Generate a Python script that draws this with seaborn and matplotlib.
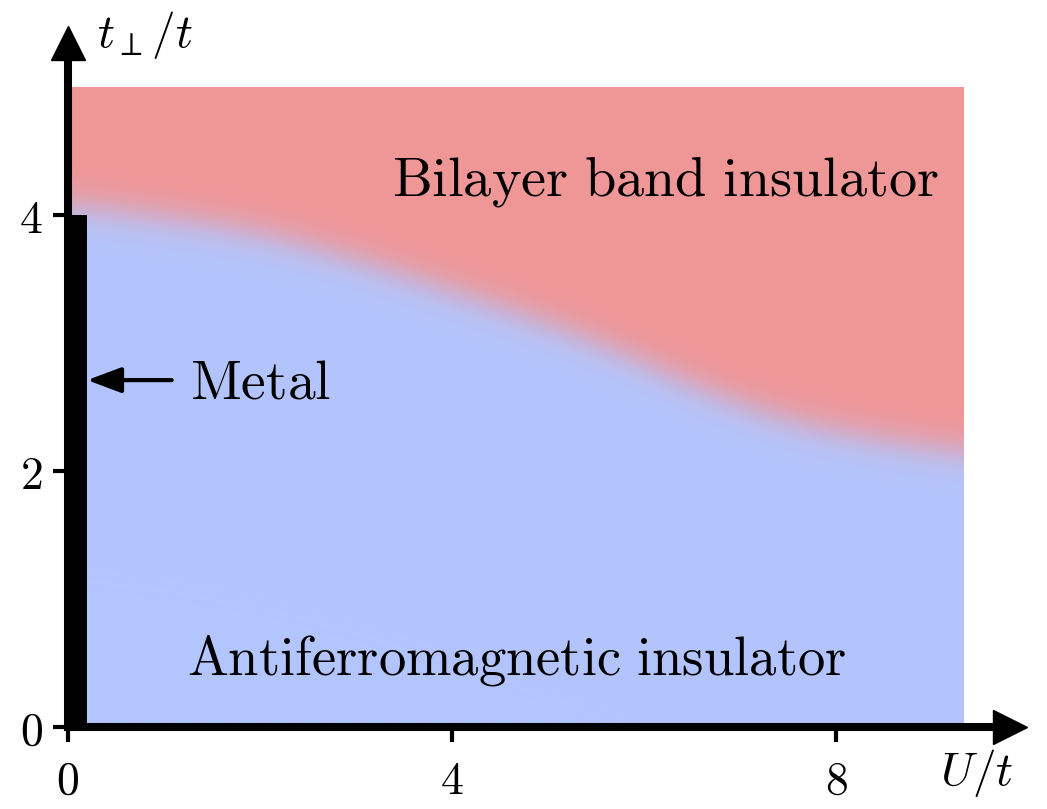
import numpy as np
import matplotlib
matplotlib.use("Agg")
import matplotlib.pyplot as plt
import seaborn as sns

# Phase boundary between the antiferromagnetic and bilayer band insulators
U_boundary = [0.0, 1.0, 2.0, 3.0, 4.0, 5.0, 6.0, 7.0, 8.0, 9.0, 9.33]
tperp_boundary = [4.08, 3.99, 3.87, 3.66, 3.41, 3.16, 2.85, 2.50, 2.30, 2.18, 2.15]

# Extent of the shaded phase diagram
U_max = 9.33
tperp_max = 5.0

# Metallic line at U = 0
metal_U = [0.083, 0.083]
metal_tperp = [0.0, 4.0]

x_ticks = [0, 4, 8]
y_ticks = [0, 2, 4]

color_bbi = np.array([240, 150, 150]) / 255.0
color_afi = np.array([179, 197, 253]) / 255.0

sns.set_style("white")
plt.rcParams["mathtext.fontset"] = "cm"
plt.rcParams["font.family"] = ["DejaVu Serif"]
plt.rcParams["text.color"] = "black"
plt.rcParams["xtick.color"] = "black"
plt.rcParams["ytick.color"] = "black"

fig = plt.figure(figsize=(10.47, 8.09), dpi=100)
ax = fig.add_axes([0, 0, 1, 1])
ax.set_xlim(-68 / 96, (1047 - 68) / 96)
ax.set_ylim(-82 / 128, 727 / 128)

# Smoothly blended phase regions
nx, ny = 700, 450
xs = np.linspace(0, U_max, nx)
ys = np.linspace(0, tperp_max, ny)
b = np.interp(xs, U_boundary, tperp_boundary)
# soften the corners of the piecewise boundary
dx = xs[1] - xs[0]
sig = 0.45
k = np.arange(-int(3 * sig / dx), int(3 * sig / dx) + 1) * dx
kern = np.exp(-0.5 * (k / sig) ** 2)
kern /= kern.sum()
pad = len(k) // 2
bp = np.concatenate([np.zeros(pad), b, np.zeros(pad)])
bp[:pad] = 2 * b[0] - b[1:pad + 1][::-1]
bp[-pad:] = 2 * b[-1] - b[-pad - 1:-1][::-1]
b_s = np.convolve(bp, kern, mode="valid")
X, Y = np.meshgrid(xs, ys)
B = np.broadcast_to(b_s, X.shape)
w = 1.0 / (1.0 + np.exp(-(Y - B) / 0.08))
img = (1 - w)[..., None] * color_afi + w[..., None] * color_bbi
ax.imshow(img, extent=[0, U_max, 0, tperp_max], origin="lower",
          aspect="auto", interpolation="bilinear", zorder=0)

# Metal
sns.lineplot(x=metal_U, y=metal_tperp, orient="y", estimator=None,
             color="black", linewidth=15.8, solid_capstyle="butt",
             ax=ax, zorder=3)

# Axes with arrow heads
for side in ["top", "right"]:
    ax.spines[side].set_visible(False)
ax.spines["left"].set_position(("data", 0))
ax.spines["bottom"].set_position(("data", 0))
ax.spines["left"].set_bounds(0, 5.25)
ax.spines["bottom"].set_bounds(0, 9.7)
for side in ["left", "bottom"]:
    ax.spines[side].set_linewidth(5.8)
    ax.spines[side].set_color("black")
    ax.spines[side].set_zorder(4)
ax.plot([9.81], [0], marker=">", ms=25, color="black", clip_on=False, zorder=5)
ax.plot([0], [5.34], marker="^", ms=25, color="black", clip_on=False, zorder=5)

ax.set_xticks(x_ticks, labels=[f"${v}$" for v in x_ticks])
ax.set_yticks(y_ticks, labels=[f"${v}$" for v in y_ticks])
ax.tick_params(axis="x", bottom=True, direction="out", length=11, width=3,
               labelsize=33, pad=12, color="black", labelcolor="black")
ax.tick_params(axis="y", left=True, direction="out", length=11, width=3,
               labelsize=33, pad=7, color="black", labelcolor="black")

# Labels
ax.text(9.08, -0.36, r"$U/t$", fontsize=34, ha="left", va="center")
ax.text(0.30, 5.41, r"$t_\perp/t$", fontsize=34, ha="left", va="center")

ax.text(6.22, 4.15, r"$\mathrm{Bilayer\ band\ insulator}$", fontsize=40.5,
        ha="center", va="baseline")
ax.text(4.67, 0.41, r"$\mathrm{Antiferromagnetic\ insulator}$", fontsize=39.3,
        ha="center", va="baseline")
ax.text(1.27, 2.57, r"$\mathrm{Metal}$", fontsize=40, ha="left", va="baseline")
ax.annotate("", xy=(0.2, 2.71), xytext=(1.08, 2.71),
            arrowprops=dict(arrowstyle="-|>,head_length=0.8,head_width=0.3",
                            lw=3, color="black", mutation_scale=26,
                            shrinkA=0, shrinkB=0))

fig.savefig("out.png", dpi=100)
